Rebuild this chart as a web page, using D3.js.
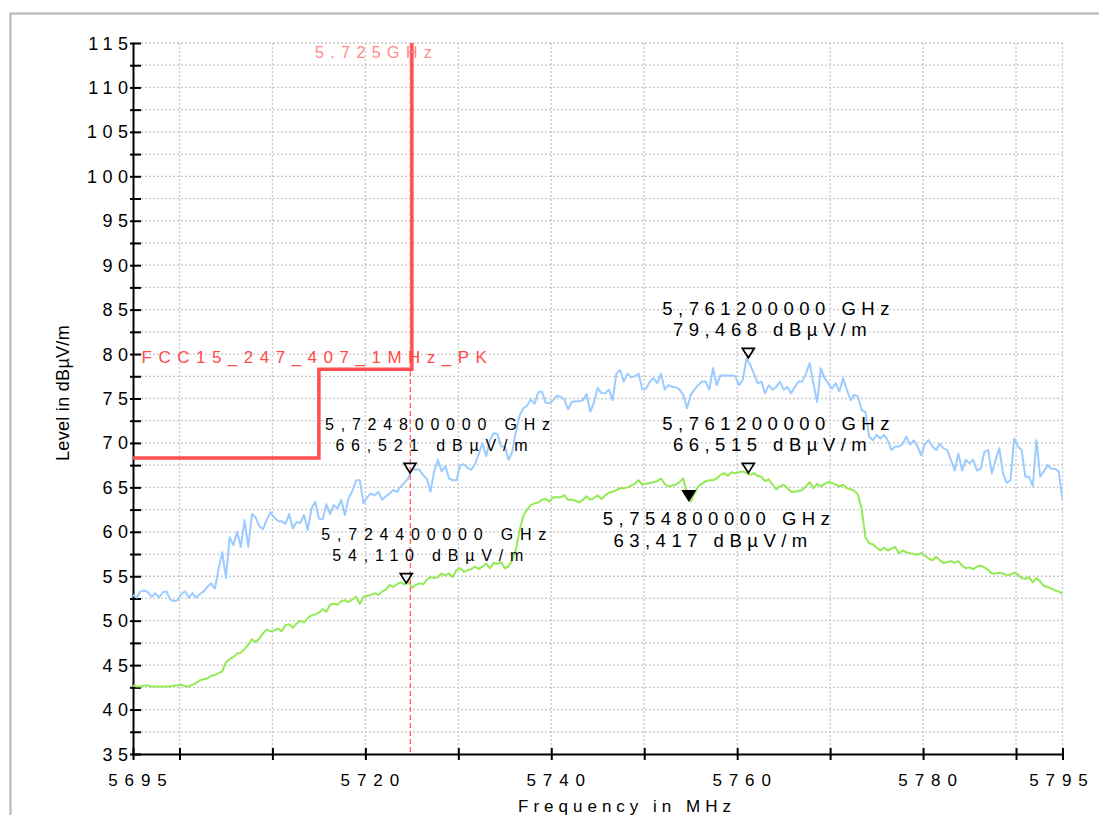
<!DOCTYPE html>
<html>
<head>
<meta charset="utf-8">
<script src="https://cdn.jsdelivr.net/npm/d3@7"></script>
<style>
  html, body { margin: 0; padding: 0; background: #ffffff; }
  svg { display: block; font-family: "Liberation Sans", Arial, Helvetica, sans-serif; }
</style>
</head>
<body>
<svg id="chart" width="1099" height="815"></svg>
<script>
// ---------------- data ----------------
const freqStartMHz = 5695;
const freqStepMHz = 0.4;

const peakLevels = [
  52.9, 52.6, 53.3, 53.4, 53.2, 52.7, 53.1, 52.6, 53.2, 53.3,
  52.4, 52.2, 52.3, 53.0, 53.3, 52.6, 53.1, 52.6, 53.0, 53.3,
  53.8, 54.2, 53.6, 55.8, 57.7, 54.8, 59.4, 58.5, 60.0, 58.3,
  61.3, 58.3, 62.0, 61.6, 60.6, 60.3, 61.4, 62.2, 61.6, 61.2,
  61.2, 60.9, 62.0, 60.4, 61.1, 61.0, 61.9, 60.2, 62.6, 63.4,
  61.5, 61.4, 63.1, 62.0, 63.0, 62.6, 63.6, 61.9, 63.8, 64.6,
  65.8, 65.8,
  63.2, 63.9, 64.3, 64.1, 64.5, 63.6, 64.0, 64.3,
  64.7, 64.5, 65.1, 65.5, 66.0, 67.0, 67.0, 67.0, 66.4, 66.0,
  64.5, 66.8, 68.1, 66.8, 67.4, 66.0, 65.8, 65.8, 67.5, 67.6,
  67.2, 67.0, 67.6, 68.8, 70.0, 68.5, 70.3, 71.1, 71.0, 69.6,
  69.6, 68.1, 69.0, 71.3, 73.1, 73.9, 74.2, 74.9, 74.4, 75.7,
  75.8, 74.5, 74.5, 74.8, 75.3, 75.2, 74.9, 73.8, 74.6, 74.7,
  74.7, 74.8, 75.5, 73.5, 74.6, 76.2,
  75.6, 75.6, 76.0, 74.8, 77.8, 78.2, 76.9, 77.8, 77.4, 77.5,
  77.8, 76.0, 76.1, 76.9, 77.3, 76.7, 77.8, 76.0, 76.5, 76.3,
  76.3, 76.0, 75.4, 73.9, 75.4, 76.0, 76.5, 76.9, 76.9, 76.0,
  78.4, 76.5, 77.6, 77.6, 77.6, 77.6, 77.5, 76.5, 77.1, 79.5,
  78.8, 77.8, 76.7, 76.9, 75.6, 76.5, 76.0, 76.3, 76.9, 76.0,
  76.3, 75.6, 76.3, 76.9, 76.9, 77.8, 79.0, 76.7, 74.6, 78.4,
  77.3, 76.7, 76.1,
  76.7, 75.8, 77.3, 76.0, 74.8, 75.4, 75.2, 73.7, 73.5, 70.7,
  70.3, 70.9, 70.5, 70.9, 70.3, 69.2, 69.6, 69.6, 69.9, 70.7,
  69.8, 70.3, 69.6, 68.6, 69.9, 70.3, 69.6, 69.2, 69.9, 69.4,
  69.2, 68.1, 66.9, 68.8, 66.9, 68.1, 67.7, 68.1, 66.9, 67.1,
  69.0, 69.2, 66.6, 68.1, 69.4, 66.6, 65.5, 65.8, 70.5, 69.6,
  69.2, 66.2, 66.2, 65.1, 70.3, 66.2, 66.8, 67.5, 67.1, 67.1,
  66.8, 63.6
];

const avgLevels = [
  42.7, 42.6, 42.6, 42.7, 42.7, 42.6, 42.6, 42.6, 42.6, 42.6,
  42.6, 42.7, 42.7, 42.8, 42.6, 42.6, 42.8, 43.0, 43.3, 43.4,
  43.5, 43.8, 43.9, 44.1, 44.3, 45.3, 45.7, 45.9, 46.3, 46.4,
  46.8, 47.3, 47.9, 47.6, 48.0, 48.6, 49.0, 48.8, 48.9, 49.1,
  48.8, 49.5, 49.6, 49.2, 49.7, 50.0, 49.8, 50.3, 50.6, 50.7,
  50.9, 51.3, 51.0, 51.8, 51.9, 51.8, 52.2, 52.3, 52.1, 52.4,
  52.7, 51.9,
  52.7, 52.8, 52.9, 53.1, 52.9, 53.3, 53.5, 54.0,
  53.8, 54.1, 54.3, 54.1, 54.4, 53.7, 54.0, 54.2, 54.1, 54.6,
  54.9, 54.8, 54.9, 55.3, 55.1, 55.3, 54.9, 55.7, 55.9, 55.5,
  55.7, 55.8, 56.1, 55.8, 56.1, 56.4, 55.9, 56.5, 56.4, 56.6,
  55.9, 56.1, 56.8, 58.0, 60.2, 61.8, 62.5, 63.0, 63.2, 63.3,
  63.6, 63.7, 63.4, 63.9, 63.9, 63.9, 64.1, 63.6, 63.6, 63.5,
  63.3, 63.6, 64.0, 63.6, 63.8, 64.1,
  63.7, 64.1, 64.4, 64.5, 64.7, 64.9, 64.9, 65.0, 65.2, 65.4,
  65.8, 65.3, 65.4, 65.5, 65.6, 65.7, 66.0, 65.4, 65.1, 65.2,
  65.3, 65.6, 66.0, 64.2, 63.4, 64.3, 65.1, 65.4, 65.7, 65.8,
  65.8, 66.0, 66.4, 66.6, 66.3, 66.7, 66.6, 66.7, 66.8, 66.6,
  66.4, 66.6, 66.3, 66.2, 65.7, 65.9, 65.3, 64.8, 65.1, 65.3,
  64.9, 64.5, 64.5, 64.6, 64.7, 65.1, 65.6, 64.9, 65.4, 65.1,
  65.4, 65.6, 65.5,
  65.3, 65.1, 65.3, 64.9, 64.8, 64.6, 64.2, 62.5, 59.4, 58.7,
  58.6, 58.2, 57.9, 58.2, 57.9, 58.1, 58.3, 57.6, 57.9, 57.7,
  57.6, 57.5, 57.4, 57.6, 57.3, 57.0, 56.8, 57.2, 56.8, 56.5,
  56.6, 56.7, 56.5, 56.7, 56.2, 55.9, 56.0, 55.8, 56.1, 56.2,
  56.0, 55.7, 55.3, 55.3, 55.4, 55.3, 55.1, 55.2, 55.4, 55.2,
  54.8, 54.7, 54.9, 54.3, 54.8, 54.4, 53.9, 53.8, 53.6, 53.4,
  53.3, 53.0
];

const limitFreqs  = [5695, 5715, 5715, 5725, 5725];
const limitLevels = [68.3, 68.3, 78.3, 78.3, 122.2];
const limitName = "FCC15_247_407_1MHz_PK";

const displayLineFreq = 5725;
const displayLineLabel = "5.725GHz";

const markerFreqText  = ["5,724800000 GHz", "5,724400000 GHz", "5,761200000 GHz", "5,761200000 GHz", "5,754800000 GHz"];
const markerLevelText = ["66,521 dBµV/m", "54,110 dBµV/m", "79,468 dBµV/m", "66,515 dBµV/m", "63,417 dBµV/m"];
const markerFreqs  = [5724.8, 5724.4, 5761.2, 5761.2, 5754.8];
const markerLevels = [66.521, 54.110, 79.468, 66.515, 63.417];
const markerActive = [false, false, false, false, true];

const xTickValues  = [5695, 5700, 5710, 5720, 5730, 5740, 5750, 5760, 5770, 5780, 5790, 5795];
const xTickLabels  = [5695, 5720, 5740, 5760, 5780, 5795];
const xGridValues  = [5700, 5710, 5720, 5730, 5740, 5750, 5760, 5770, 5780, 5790, 5795];
const yTickValues  = d3.range(35, 115.01, 2.5);
const yTickLabels  = [35, 40, 45, 50, 55, 60, 65, 70, 75, 80, 85, 90, 95, 100, 105, 110, 115];

const xTitle = "Frequency in MHz";
const yTitle = "Level in dBµV/m";

// ---------------- layout ----------------
const svg = d3.select("#chart");
const L = 133, R = 1062.5, T = 43, B = 754;
const x = d3.scaleLinear().domain([5695, 5795]).range([L, R]);
const y = d3.scaleLinear().domain([35, 115]).range([B, T]);

// outer frame
svg.append("rect").attr("x", 10.5).attr("y", 13.5).attr("width", 1300).attr("height", 1000)
  .attr("fill", "none").attr("stroke", "#b4b4b4").attr("stroke-width", 2);

svg.append("defs").append("clipPath").attr("id", "plotclip")
  .append("rect").attr("x", L).attr("y", T).attr("width", R - L).attr("height", B - T);

// grid
const grid = svg.append("g").attr("stroke", "#c8c8c8").attr("stroke-width", 1.3)
  .attr("stroke-dasharray", "2,2").attr("fill", "none");
grid.selectAll("line.h").data(yTickValues.filter(v => v > 35)).join("line")
  .attr("x1", L).attr("x2", R).attr("y1", d => y(d)).attr("y2", d => y(d));
grid.selectAll("line.v").data(xGridValues).join("line")
  .attr("x1", d => x(d)).attr("x2", d => x(d)).attr("y1", T).attr("y2", B);

// axes (d3 axis generators)
const yAxis = d3.axisLeft(y).tickValues(yTickValues).tickSize(0).tickFormat("");
const yAx = svg.append("g").attr("transform", `translate(${L},0)`).call(yAxis);
yAx.select(".domain").attr("stroke", "#000").attr("stroke-width", 2);
yAx.selectAll(".tick").append("line").attr("x1", -3).attr("x2", 8).attr("stroke", "#000").attr("stroke-width", 2);

const xAxis = d3.axisBottom(x).tickValues(xTickValues).tickSize(0).tickFormat("");
const xAx = svg.append("g").attr("transform", `translate(0,${B})`).call(xAxis);
xAx.select(".domain").attr("stroke", "#000").attr("stroke-width", 2);
xAx.selectAll(".tick").append("line").attr("y1", -6).attr("y2", 6).attr("stroke", "#000").attr("stroke-width", 2);

// tick labels
const yLS = 5.5;
svg.append("g").selectAll("text").data(yTickLabels).join("text")
  .attr("x", L + 0.5).attr("y", d => y(d) + 6.5)
  .attr("text-anchor", "end").attr("font-size", 18).attr("letter-spacing", yLS)
  .attr("fill", "#000").text(d => d);

const xLS = 6.9;
const lastX = xTickLabels[xTickLabels.length - 1];
svg.append("g").selectAll("text").data(xTickLabels).join("text")
  .attr("x", d => x(d) + (d === lastX ? -4 : 4.5) + xLS / 2).attr("y", 786)
  .attr("text-anchor", "middle").attr("font-size", 17).attr("letter-spacing", xLS)
  .attr("fill", "#000").text(d => d);

// axis titles
svg.append("text").attr("x", 624.5 + 2.5).attr("y", 812).attr("text-anchor", "middle")
  .attr("font-size", 17).attr("letter-spacing", 5).attr("fill", "#000").text(xTitle);
svg.append("text").attr("transform", "translate(69,393) rotate(-90)").attr("text-anchor", "middle")
  .attr("font-size", 18).attr("letter-spacing", 0.3).attr("fill", "#000").text(yTitle);

const plot = svg.append("g").attr("clip-path", "url(#plotclip)");

// traces
const freqs = peakLevels.map((_, i) => freqStartMHz + freqStepMHz * i);
const line = d3.line().x(d => x(d[0])).y(d => y(d[1]));
plot.append("path").datum(freqs.map((f, i) => [f, avgLevels[i]]))
  .attr("d", line).attr("fill", "none").attr("stroke", "#93ea55").attr("stroke-width", 2)
  .attr("stroke-linejoin", "round");
plot.append("path").datum(freqs.map((f, i) => [f, peakLevels[i]]))
  .attr("d", line).attr("fill", "none").attr("stroke", "#9cccff").attr("stroke-width", 2)
  .attr("stroke-linejoin", "round");

// limit line
plot.append("path").datum(limitFreqs.map((f, i) => [f, limitLevels[i]]))
  .attr("d", line).attr("fill", "none").attr("stroke", "#ff4f4f").attr("stroke-width", 3.5);

// display line
plot.append("line").attr("x1", x(displayLineFreq) - 1.5).attr("x2", x(displayLineFreq) - 1.5)
  .attr("y1", T).attr("y2", B).attr("stroke", "#ff6a6a").attr("stroke-width", 1.4)
  .attr("stroke-dasharray", "5,3");

svg.append("text").attr("x", 315).attr("y", 57.5).attr("font-size", 16).attr("letter-spacing", 6.4)
  .attr("fill", "#ff8a8a").text(displayLineLabel);
svg.append("text").attr("x", 141.5).attr("y", 362.5).attr("font-size", 17).attr("letter-spacing", 6.5)
  .attr("fill", "#ff4a4a").text(limitName);

// markers
const mg = svg.append("g");
markerFreqs.forEach((f, i) => {
  const mx = x(f), tip = y(markerLevels[i]) - 1;
  const filled = markerActive[i];
  const tri = `M${mx - 6},${tip - 9.5} L${mx + 6},${tip - 9.5} L${mx},${tip} Z`;
  mg.append("path").attr("d", tri).attr("fill", filled ? "#000" : "none")
    .attr("stroke", "#000").attr("stroke-width", 1.7).attr("stroke-linejoin", "miter");
  const narrow = mx < 500;
  const fs = narrow ? 16 : 18.5;
  const ls = narrow ? 6.8 : 5.5;
  const y1 = filled ? tip + 25 : tip - 43;
  const y2 = filled ? tip + 47 : tip - 22;
  mg.append("text").attr("x", mx + 27.5 + ls / 2).attr("y", y1).attr("text-anchor", "middle")
    .attr("font-size", fs).attr("letter-spacing", ls).attr("fill", "#000").text(markerFreqText[i]);
  mg.append("text").attr("x", mx + 21.5 + ls / 2).attr("y", y2).attr("text-anchor", "middle")
    .attr("font-size", fs).attr("letter-spacing", ls).attr("fill", "#000").text(markerLevelText[i]);
});
</script>
</body>
</html>
